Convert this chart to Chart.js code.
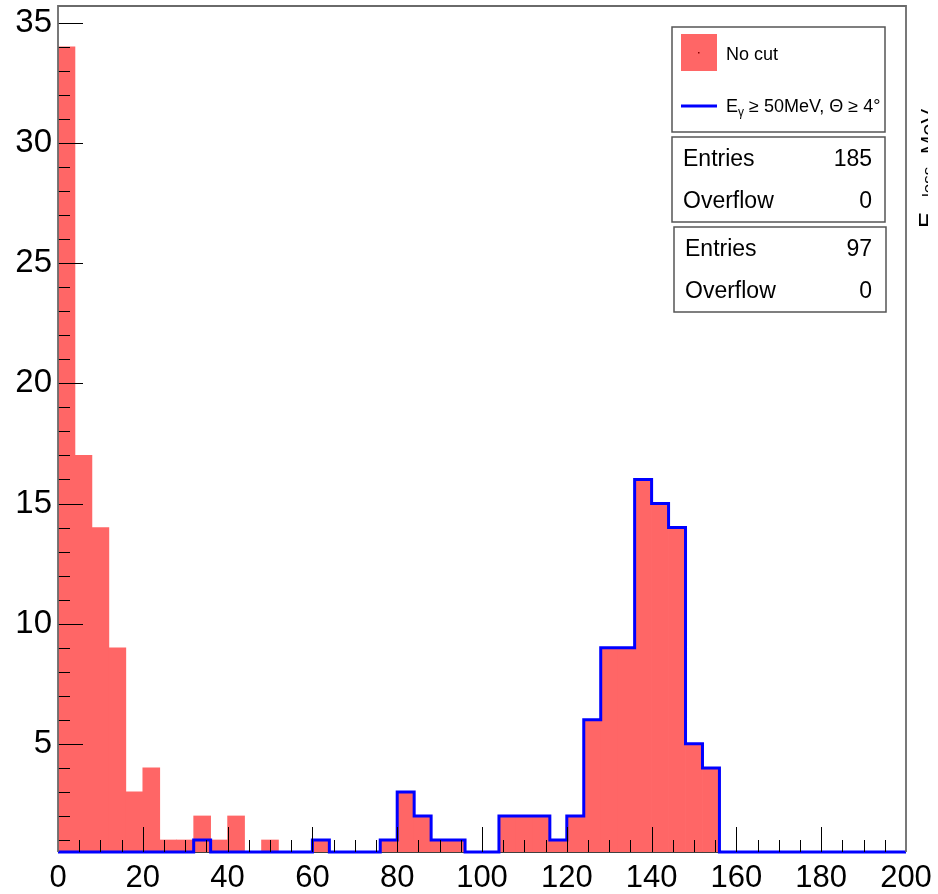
<!DOCTYPE html>
<html>
<head>
<meta charset="utf-8">
<script src="https://cdn.jsdelivr.net/npm/chart.js@4.4.0/dist/chart.umd.min.js"></script>
<style>
    html, body { margin: 0; padding: 0; background: #ffffff; }
</style>
</head>
<body>
<canvas id="myChart" width="938" height="894"></canvas>
<script>
// E_loss histogram, 4 MeV bins from 0 to 200
const binWidth = 4;
const binStarts = [0, 4, 8, 12, 16, 20, 24, 28, 32, 36, 40, 44, 48, 52, 56, 60, 64, 68, 72, 76,
    80, 84, 88, 92, 96, 100, 104, 108, 112, 116, 120, 124, 128, 132, 136, 140, 144, 148, 152, 156,
    160, 164, 168, 172, 176, 180, 184, 188, 192, 196];

const noCut = [34, 17, 14, 9, 3, 4, 1, 1, 2, 1, 2, 0, 1, 0, 0, 1, 0, 0, 0, 1,
    3, 2, 1, 1, 0, 0, 2, 2, 2, 1, 2, 6, 9, 9, 16, 15, 14, 5, 4, 0,
    0, 0, 0, 0, 0, 0, 0, 0, 0, 0];

const withCut = [0, 0, 0, 0, 0, 0, 0, 0, 1, 0, 0, 0, 0, 0, 0, 1, 0, 0, 0, 1,
    3, 2, 1, 1, 0, 0, 2, 2, 2, 1, 2, 6, 9, 9, 16, 15, 14, 5, 4, 0,
    0, 0, 0, 0, 0, 0, 0, 0, 0, 0];

const xTicks = [0, 20, 40, 60, 80, 100, 120, 140, 160, 180, 200];
const yTicks = [5, 10, 15, 20, 25, 30, 35];

const seriesNames = ['No cut', 'E_γ ≥ 50MeV, Θ ≥ 4°'];
const entries = [185, 97];
const overflow = [0, 0];

const yMin = 0.5, yMax = 35.7;
const xMin = 0, xMax = 200;
const font = '"Liberation Sans", Arial, sans-serif';

const redFill = '#ff6666';
const blueLine = '#0000ff';

// ROOT style frame, inner ticks, legend and stat boxes
const rootDecor = {
    id: 'rootDecor',
    beforeDatasetsDraw(chart) {
        const { ctx, chartArea: a } = chart;
        ctx.save();
        ctx.strokeStyle = '#000';
        ctx.lineWidth = 1.5;
        ctx.beginPath();
        ctx.moveTo(a.left, a.bottom);
        ctx.lineTo(a.right, a.bottom);
        ctx.stroke();
        ctx.restore();
    },
    afterDatasetsDraw(chart) {
        const { ctx, chartArea: a, scales } = chart;
        const xs = scales.x, ys = scales.y;
        ctx.save();

        // ticks
        ctx.strokeStyle = '#000';
        ctx.lineWidth = 1;
        ctx.beginPath();
        for (let v = 5; v < xMax; v += 5) {
            const px = Math.round(xs.getPixelForValue(v)) + 0.5;
            const len = v % 20 === 0 ? 25 : 12;
            ctx.moveTo(px, a.bottom);
            ctx.lineTo(px, a.bottom - len);
        }
        for (let v = 1; v <= 35; v++) {
            const py = Math.round(ys.getPixelForValue(v)) + 0.5;
            const len = v % 5 === 0 ? 25 : 12;
            ctx.moveTo(a.left, py);
            ctx.lineTo(a.left + len, py);
        }
        ctx.stroke();

        // frame
        ctx.strokeStyle = '#6a6a6a';
        ctx.lineWidth = 1.8;
        ctx.beginPath();
        ctx.moveTo(a.left, a.bottom);
        ctx.lineTo(a.left, a.top);
        ctx.lineTo(a.right, a.top);
        ctx.lineTo(a.right, a.bottom);
        ctx.stroke();
        ctx.restore();
    },
    afterDraw(chart) {
        const ctx = chart.ctx;
        ctx.save();

        // legend
        ctx.fillStyle = '#fff';
        ctx.fillRect(672, 27, 213, 105);
        ctx.strokeStyle = '#555';
        ctx.lineWidth = 1.5;
        ctx.strokeRect(672, 27, 213, 105);

        ctx.fillStyle = redFill;
        ctx.fillRect(681, 34, 36, 37);
        ctx.fillStyle = '#8a0000';
        ctx.fillRect(698, 52, 1.5, 1.5);

        ctx.fillStyle = '#000';
        ctx.textBaseline = 'alphabetic';
        ctx.textAlign = 'left';
        ctx.font = '18px ' + font;
        ctx.fillText(seriesNames[0], 726, 60);

        ctx.strokeStyle = blueLine;
        ctx.lineWidth = 3;
        ctx.beginPath();
        ctx.moveTo(681, 106);
        ctx.lineTo(717, 106);
        ctx.stroke();

        ctx.save();
        ctx.beginPath();
        ctx.rect(672, 27, 213, 105);
        ctx.clip();
        let x = 726;
        ctx.font = '18px ' + font;
        ctx.fillText('E', x, 112);
        x += ctx.measureText('E').width;
        ctx.font = '12px ' + font;
        ctx.fillText('γ', x, 116);
        x += ctx.measureText('γ').width;
        ctx.font = '18px ' + font;
        ctx.fillText(' ≥ 50MeV, Θ ≥ 4°', x, 112);
        ctx.restore();

        // stat boxes
        const boxes = [
            { x: 672, y: 137, w: 213, h: 85 },
            { x: 674, y: 227, w: 212, h: 85 }
        ];
        boxes.forEach((b, i) => {
            ctx.fillStyle = '#fff';
            ctx.fillRect(b.x, b.y, b.w, b.h);
            ctx.strokeStyle = '#555';
            ctx.lineWidth = 1.5;
            ctx.strokeRect(b.x, b.y, b.w, b.h);
            ctx.fillStyle = '#000';
            ctx.font = '23px ' + font;
            ctx.textAlign = 'left';
            ctx.fillText('Entries', b.x + 11, b.y + 29);
            ctx.fillText('Overflow', b.x + 11, b.y + 71);
            ctx.textAlign = 'right';
            ctx.fillText(String(entries[i]), 872, b.y + 29);
            ctx.fillText(String(overflow[i]), 872, b.y + 71);
        });

        // x axis title, rotated and cut at the canvas edge
        ctx.save();
        ctx.beginPath();
        ctx.rect(908, 0, 20, 894);
        ctx.clip();
        ctx.translate(936, 228);
        ctx.rotate(-Math.PI / 2);
        ctx.textAlign = 'left';
        ctx.fillStyle = '#000';
        ctx.font = '24px ' + font;
        ctx.fillText('E', 0, 0);
        ctx.font = '17px ' + font;
        ctx.fillText('loss', 31, -2);
        ctx.font = '22px ' + font;
        ctx.fillText(',', 58, 0);
        ctx.fillText('MeV', 74, 0);
        ctx.restore();

        ctx.restore();
    }
};

function main() {
    const ctx = document.getElementById('myChart');

    const barData = binStarts.map((s, i) => ({ x: s + binWidth / 2, y: noCut[i] }));
    // step outline: one point per bin edge, zero bins sit on the frame like ROOT does
    const stepData = binStarts.map((s, i) => ({ x: s, y: Math.max(withCut[i], yMin) }));
    stepData.push({ x: xMax, y: Math.max(withCut[withCut.length - 1], yMin) });

    new Chart(ctx, {
        type: 'bar',
        data: {
            datasets: [
                {
                    type: 'line',
                    label: seriesNames[1],
                    data: stepData,
                    borderColor: blueLine,
                    borderWidth: 3,
                    stepped: true,
                    pointRadius: 0,
                    fill: false,
                    borderJoinStyle: 'miter',
                    clip: false,
                    order: 1
                },
                {
                    type: 'bar',
                    label: seriesNames[0],
                    data: barData,
                    backgroundColor: redFill,
                    borderWidth: 0,
                    barPercentage: 1,
                    categoryPercentage: 1,
                    clip: 0,
                    order: 2
                }
            ]
        },
        plugins: [rootDecor],
        options: {
            responsive: false,
            animation: false,
            layout: { padding: { top: 6, right: 32, left: 0, bottom: 0 } },
            plugins: {
                legend: { display: false },
                tooltip: { enabled: false }
            },
            scales: {
                x: {
                    type: 'linear',
                    min: xMin,
                    max: xMax,
                    offset: false,
                    grid: { display: false, drawTicks: false },
                    border: { display: false },
                    ticks: {
                        color: '#000',
                        font: { family: font, size: 31 },
                        padding: 8,
                        maxRotation: 0,
                        autoSkip: false
                    },
                    afterBuildTicks: (s) => { s.ticks = xTicks.map(v => ({ value: v })); },
                    afterFit: (s) => { s.height = 42; s.paddingLeft = 0; s.paddingRight = 0; }
                },
                y: {
                    min: yMin,
                    max: yMax,
                    grid: { display: false, drawTicks: false },
                    border: { display: false },
                    ticks: {
                        color: '#000',
                        font: { family: font, size: 33 },
                        padding: 6
                    },
                    afterBuildTicks: (s) => { s.ticks = yTicks.map(v => ({ value: v })); },
                    afterFit: (s) => { s.width = 58; s.paddingTop = 0; s.paddingBottom = 0; }
                }
            }
        }
    });
}

main();
</script>
</body>
</html>
